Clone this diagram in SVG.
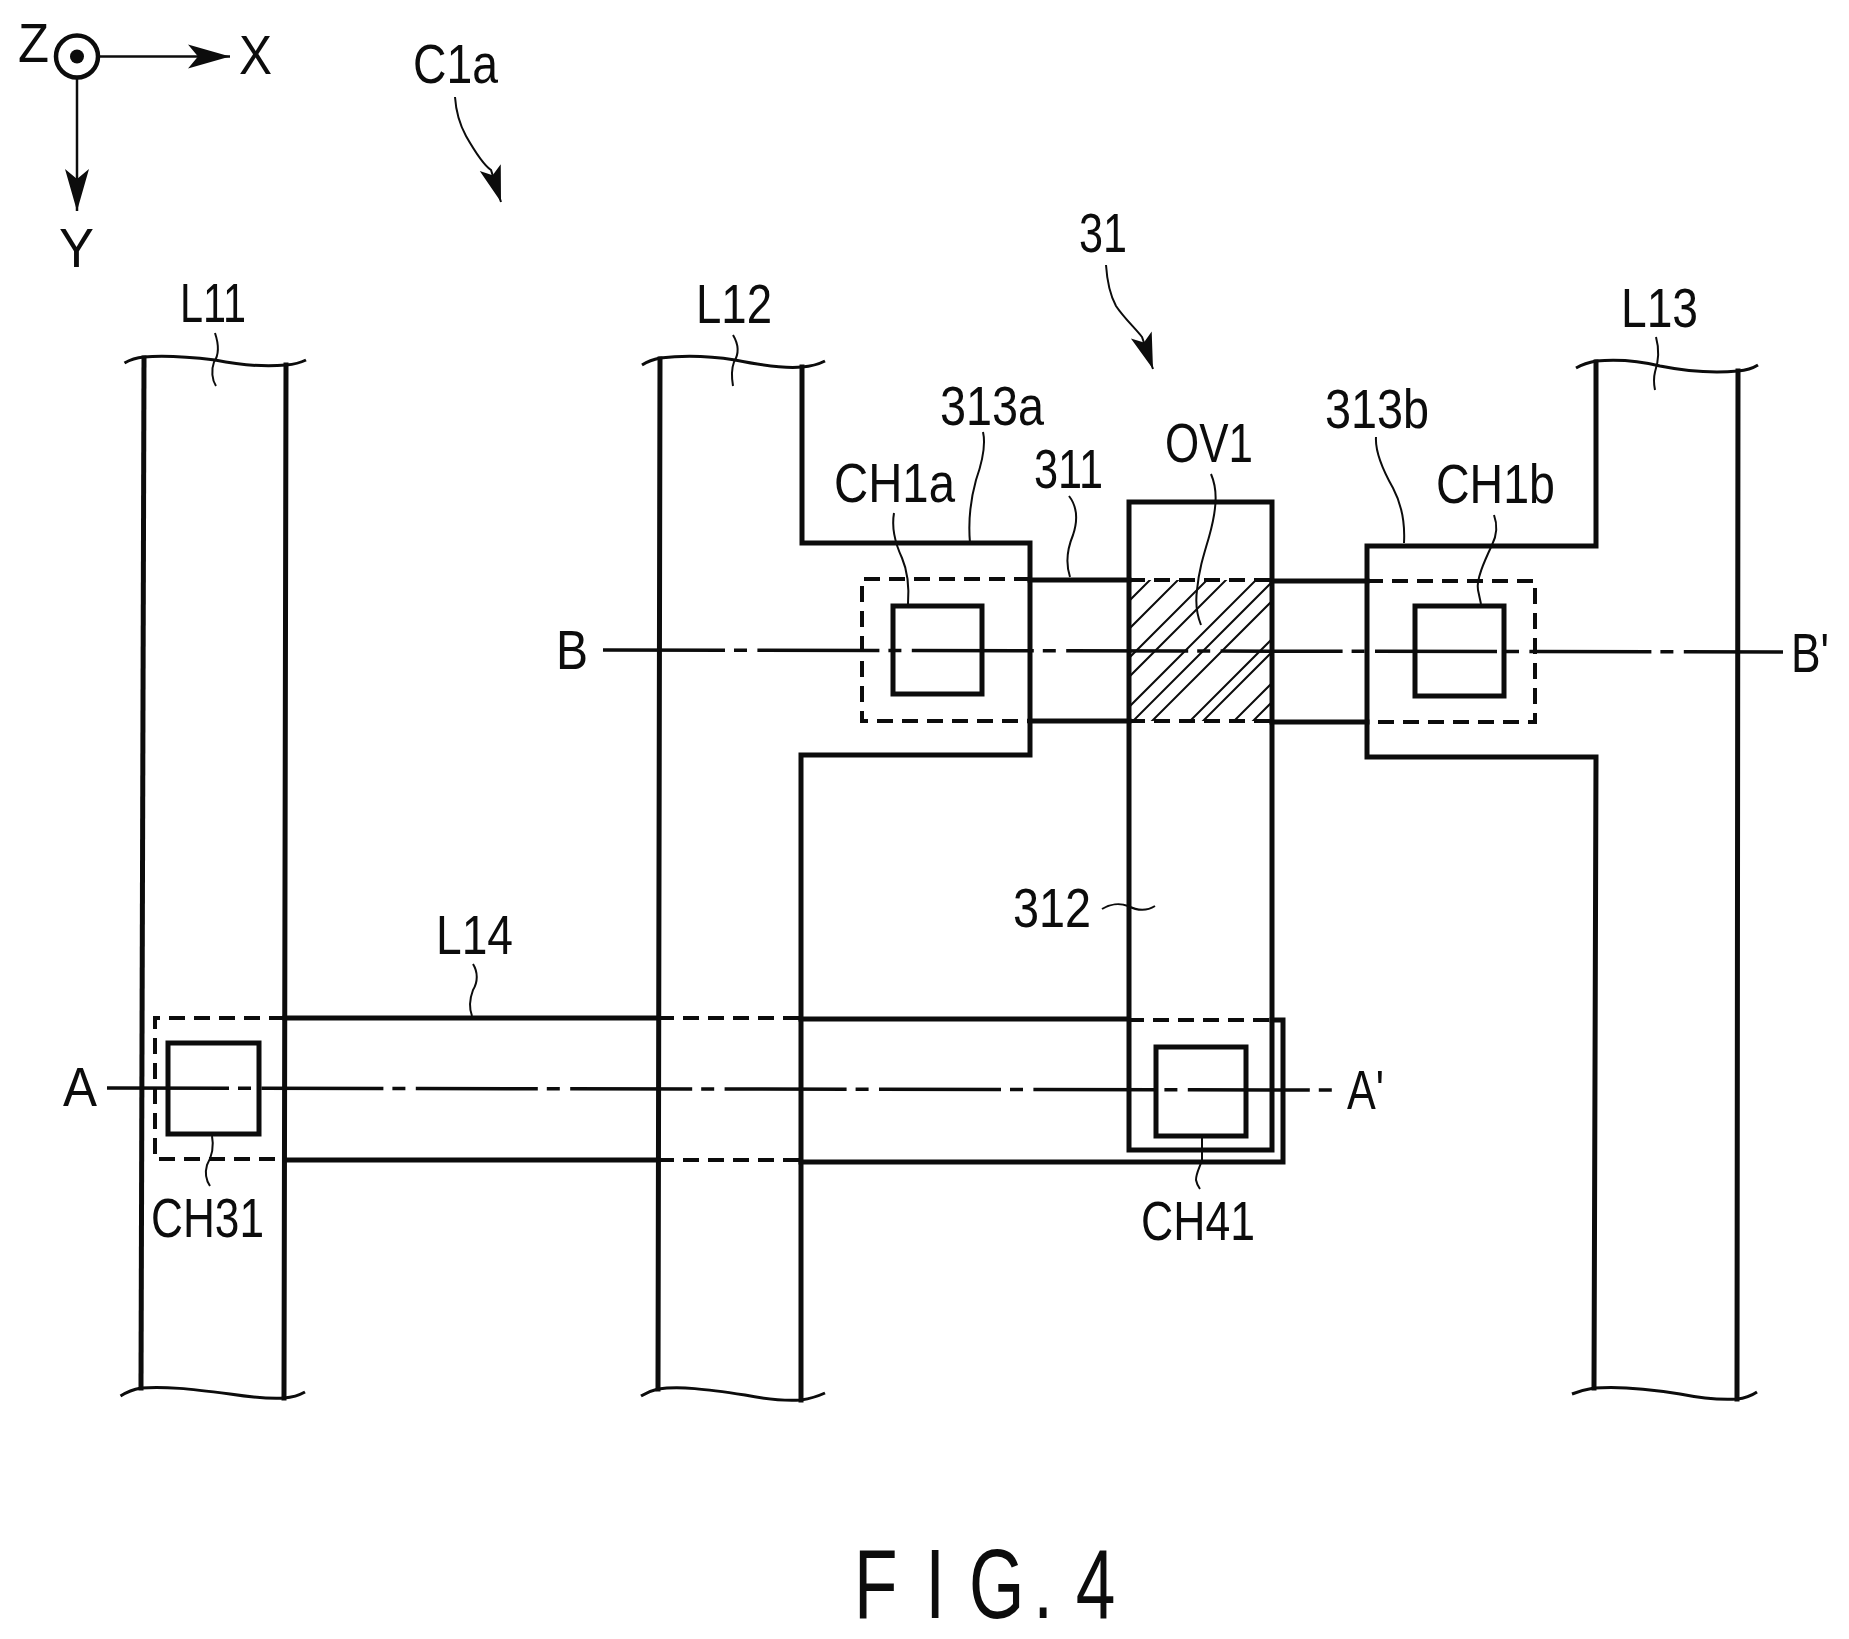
<svg xmlns="http://www.w3.org/2000/svg" width="1849" height="1639" viewBox="0 0 1849 1639">
<style>
.bg{fill:#fff}
.s{fill:none;stroke:#0c0c0c;stroke-width:5;stroke-linecap:square;stroke-linejoin:miter}
.d{fill:none;stroke:#0c0c0c;stroke-width:4;stroke-dasharray:16 9}
.c{fill:none;stroke:#0c0c0c;stroke-width:3.5;stroke-dasharray:122 9 13 10.4}
.w{fill:none;stroke:#0c0c0c;stroke-width:3}
.l{fill:none;stroke:#0c0c0c;stroke-width:2}
.a{fill:none;stroke:#0c0c0c;stroke-width:2.5}
.h{fill:none;stroke:#0c0c0c;stroke-width:2}
.t{font-family:"Liberation Sans",Arial,sans-serif;font-size:56px;fill:#0c0c0c}
.f{font-family:"Liberation Sans",Arial,sans-serif;font-size:99px;fill:#0c0c0c}
</style>
<defs>
<marker id="big" viewBox="0 -13 43 26" refX="42" refY="0" markerWidth="43" markerHeight="26" markerUnits="userSpaceOnUse" orient="auto">
<path d="M42,0 L0,-12 L10,0 L0,12 Z" fill="#0c0c0c"/>
</marker>
<marker id="lead" viewBox="0 -12 37 24" refX="36" refY="0" markerWidth="37" markerHeight="24" markerUnits="userSpaceOnUse" orient="auto">
<path d="M36,0 L0,-11 L8,0 L0,11 Z" fill="#0c0c0c"/>
</marker>
<clipPath id="ov"><rect x="1129" y="580" width="143" height="141"/></clipPath>
</defs>
<rect class="bg" width="1849" height="1639"/>

<g id="axes">
<circle cx="77" cy="56.5" r="21" fill="none" stroke="#0c0c0c" stroke-width="4.5"/>
<circle cx="77" cy="56.5" r="7" fill="#0c0c0c"/>
<text class="t" x="18" y="62" textLength="31" lengthAdjust="spacingAndGlyphs">Z</text>
<text class="t" x="239" y="74" textLength="33" lengthAdjust="spacingAndGlyphs">X</text>
<text class="t" x="59" y="267" textLength="35" lengthAdjust="spacingAndGlyphs">Y</text>
</g>

<g id="L11">
<path class="s" d="M144,358 L141,1388"/>
<path class="s" d="M286,365 L284,1398"/>
<path class="w" d="M124.500,363 Q133,358 144,357 C165,355 190,357 215,360 C240,365 265,367 286,365 Q298,364 306,360"/>
<path class="w" d="M120.500,1396 Q130,1390 141,1388 C165,1386 190,1389 230,1394 C250,1397 268,1399 284,1398 Q296,1397 305,1392"/>
<text class="t" x="180" y="322" textLength="66" lengthAdjust="spacingAndGlyphs">L11</text>
</g>

<g id="L12">
<path class="s" d="M660,359 L658,1389"/>
<path class="s" d="M802,367 V543 H1030 V755 H801 V1400"/>
<path class="w" d="M642,365 Q650,360 660,358 C685,355 710,356 735,360 C760,365 785,369 802,367 Q815,366 825,361"/>
<path class="w" d="M641,1396 Q649,1391 658,1389 C680,1386 705,1389 745,1395 C765,1399 785,1401 801,1400 Q814,1398 825,1393"/>
<text class="t" x="696" y="323" textLength="76" lengthAdjust="spacingAndGlyphs">L12</text>
</g>

<g id="L13">
<path class="s" d="M1596,362 V546 H1367 V757 H1596 L1594,1388"/>
<path class="s" d="M1738,371 L1737,1399"/>
<path class="w" d="M1576,368 Q1585,363 1596,361 C1620,359 1640,361 1660,366 C1685,371 1715,373 1738,371 Q1750,370 1758,365"/>
<path class="w" d="M1572,1394 Q1582,1390 1594,1388 C1620,1386 1650,1389 1680,1394 C1700,1398 1720,1400 1737,1399 Q1748,1398 1757,1392"/>
<text class="t" x="1621" y="327" textLength="77" lengthAdjust="spacingAndGlyphs">L13</text>
</g>

<g id="L14">
<path class="s" d="M285,1018 H658 M801,1019 H1128"/>
<path class="s" d="M285,1160 H658 M801,1162 H1283 V1020 H1272"/>
<path class="d" d="M285,1018 H155 V1159 H285"/>
<path class="d" d="M658,1018 H801 M658,1160 H801"/>
<path class="d" d="M1128,1020 H1272"/>
<text class="t" x="436" y="954" textLength="77" lengthAdjust="spacingAndGlyphs">L14</text>
</g>

<g id="el311">
<path class="s" d="M1030,580 H1129 M1030,721 H1129 M1272,581 H1367 M1272,722 H1367"/>
<text class="t" x="1034" y="488" textLength="69" lengthAdjust="spacingAndGlyphs">311</text>
</g>

<g id="el312">
<rect class="s" x="1129" y="502" width="143" height="648"/>
<text class="t" x="1013" y="927" textLength="78" lengthAdjust="spacingAndGlyphs">312</text>
</g>

<g id="OV1">
<g clip-path="url(#ov)">
<path class="h" d="M1730,0 L0,1730 M1758,0 L0,1758 M1787,0 L0,1787 M1806,0 L0,1806 M1836,0 L0,1836 M1854,0 L0,1854 M1873,0 L0,1873 M1911,0 L0,1911 M1924,0 L0,1924 M1955,0 L0,1955 M1974,0 L0,1974"/>
</g>
<path class="d" d="M1129,580 H1272 M1129,721 H1272"/>
<text class="t" x="1165" y="462" textLength="88" lengthAdjust="spacingAndGlyphs">OV1</text>
</g>

<g id="el313a">
<path class="d" d="M1030,579 H862 V721 H1030"/>
<text class="t" x="940" y="425" textLength="104" lengthAdjust="spacingAndGlyphs">313a</text>
</g>

<g id="el313b">
<path class="d" d="M1367,581 H1535 V722 H1367"/>
<text class="t" x="1325" y="428" textLength="104" lengthAdjust="spacingAndGlyphs">313b</text>
</g>

<g id="CH1a">
<rect class="s" x="893" y="606" width="89" height="88"/>
<text class="t" x="834" y="502" textLength="121" lengthAdjust="spacingAndGlyphs">CH1a</text>
</g>

<g id="CH1b">
<rect class="s" x="1415" y="606" width="89" height="90"/>
<text class="t" x="1436" y="503" textLength="119" lengthAdjust="spacingAndGlyphs">CH1b</text>
</g>

<g id="CH31">
<rect class="s" x="168" y="1043" width="91" height="91"/>
<text class="t" x="151" y="1237" textLength="113" lengthAdjust="spacingAndGlyphs">CH31</text>
</g>

<g id="CH41">
<rect class="s" x="1156" y="1047" width="90" height="89"/>
<text class="t" x="1141" y="1240" textLength="114" lengthAdjust="spacingAndGlyphs">CH41</text>
</g>

<g id="section-AA">
<text class="t" x="63" y="1106" textLength="34" lengthAdjust="spacingAndGlyphs">A</text>
<text class="t" x="1347" y="1109" textLength="37" lengthAdjust="spacingAndGlyphs">A'</text>
</g>

<g id="section-BB">
<text class="t" x="556" y="669" textLength="32" lengthAdjust="spacingAndGlyphs">B</text>
<text class="t" x="1791" y="672" textLength="38" lengthAdjust="spacingAndGlyphs">B'</text>
</g>

<g id="refs">
<text class="t" x="413" y="83" textLength="85" lengthAdjust="spacingAndGlyphs">C1a</text>
<text class="t" x="1079" y="252" textLength="48" lengthAdjust="spacingAndGlyphs">31</text>
</g>

<g id="connectors">
<path class="a" d="M99,56.500 H230" marker-end="url(#big)"/>
<path class="a" d="M77,77 V211" marker-end="url(#big)"/>
<path class="c" d="M107,1088 L1333,1090"/>
<path class="c" d="M603,650 L1783,652"/>
<path class="l" d="M455,97 C456,112 460,125 466,136 C474,150 485,166 491,170 L501,202" marker-end="url(#lead)"/>
<path class="l" d="M1106,265 C1107,280 1110,295 1116,306 C1124,318 1135,328 1142,337 L1153,369" marker-end="url(#lead)"/>
<path class="l" d="M215,333 C219,345 219,355 214,362 C211,370 212,380 216,386"/>
<path class="l" d="M733,335 C739,345 739,354 734,362 C731,370 732,380 733,386"/>
<path class="l" d="M1656,337 C1659,348 1659,360 1655,372 C1653,380 1654,385 1655,390"/>
<path class="l" d="M473,964 C478,972 478,982 473,990 C470,998 469,1008 472,1016"/>
<path class="l" d="M983,432 C986,445 983,460 976,480 C971,498 968,520 970,543"/>
<path class="l" d="M1069,496 C1076,505 1079,517 1073,535 C1066,552 1066,565 1070,577"/>
<path class="l" d="M1211,474 C1217,488 1218,505 1209,537 C1203,557 1199,570 1197,590 C1195,605 1197,615 1201,625"/>
<path class="l" d="M894,513 C891,530 896,545 902,558 C908,572 909,590 908,604"/>
<path class="l" d="M1376,437 C1375,452 1384,472 1393,488 C1402,505 1405,525 1404,543"/>
<path class="l" d="M1494,515 C1498,526 1497,535 1492,545 C1484,562 1476,580 1478,590 L1481,604"/>
<path class="l" d="M1102,909 C1110,904 1120,903 1128,906 C1138,911 1147,911 1155,906"/>
<path class="l" d="M212,1136 C214,1146 212,1156 207,1165 C205,1172 206,1180 210,1186"/>
<path class="l" d="M1202,1138 L1202,1160 C1200,1167 1196,1173 1196,1180 Q1197,1185 1200,1189"/>
</g>

<g id="caption">
<text class="f" transform="scale(0.72,1)" x="1186 1240 1285 1320 1346 1435 1460 1494" y="1618">F I G. 4</text>
</g>
</svg>
